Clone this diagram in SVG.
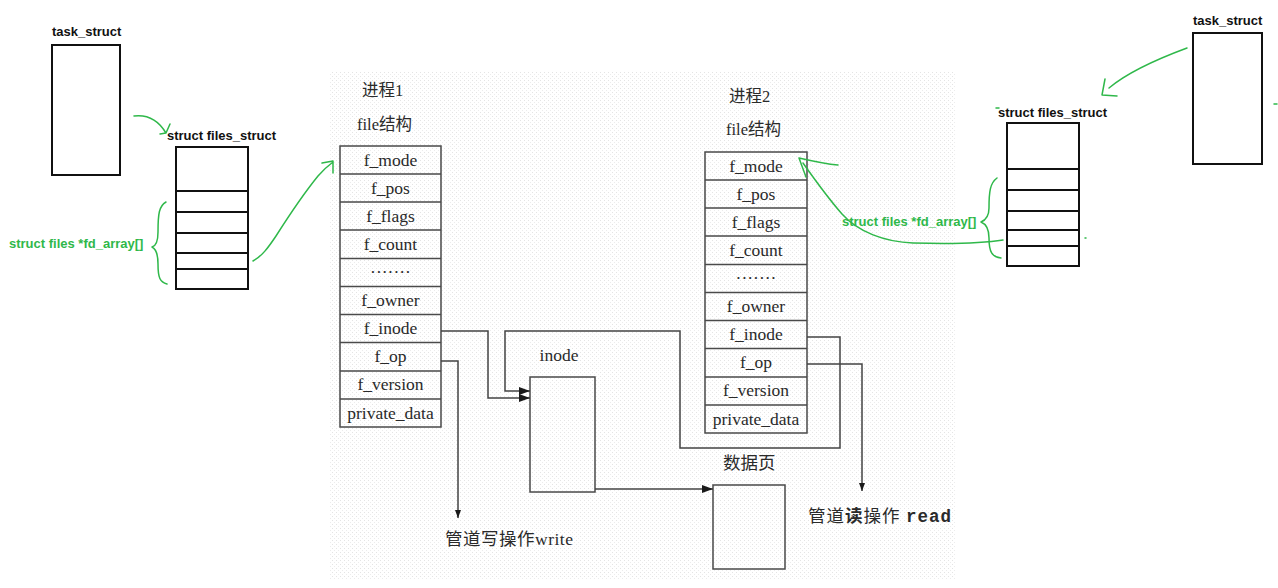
<svg xmlns="http://www.w3.org/2000/svg" width="1278" height="588" viewBox="0 0 1278 588">
<style>
.lbl{font-family:"Liberation Sans","Noto Sans",sans-serif;font-weight:bold;font-size:13px;fill:#111}
.glbl{font-family:"Liberation Sans","Noto Sans",sans-serif;font-weight:bold;font-size:13px;fill:#2fb84a}
.box{fill:none;stroke:#111;stroke-width:2}
.tbl{fill:none;stroke:#4a4a4a;stroke-width:1.5}
.cell{font-family:"Liberation Serif","Noto Sans CJK SC",serif;font-size:17.5px;fill:#2a2a2a;text-anchor:middle}
.cjk{font-family:"Liberation Serif","Noto Sans CJK SC",serif;font-size:16.5px;fill:#2a2a2a}
.conn{fill:none;stroke:#444;stroke-width:1.5}
.green{fill:none;stroke:#2fb84a;stroke-width:1.5;stroke-linecap:round;stroke-linejoin:round}
</style>
<defs>
<pattern id="dots" width="4" height="4" patternUnits="userSpaceOnUse">
<rect width="4" height="4" fill="#ffffff"/>
<rect x="0" y="0" width="1" height="1" fill="#e4e4e4"/>
<rect x="2" y="2" width="1" height="1" fill="#ececec"/>
</pattern>
<marker id="arr" markerUnits="userSpaceOnUse" markerWidth="12" markerHeight="8" refX="11" refY="4" orient="auto">
<path d="M0,0 L11,4 L0,8 z" fill="#1a1a1a"/>
</marker>
<marker id="arrs" markerUnits="userSpaceOnUse" markerWidth="9" markerHeight="6" refX="8" refY="3" orient="auto">
<path d="M0,0 L8,3 L0,6 z" fill="#1a1a1a"/>
</marker>
</defs>
<rect width="1278" height="588" fill="#ffffff"/>
<rect id="scan-bg" x="329" y="72" width="627" height="508" fill="url(#dots)"/>

<g id="task1">
<text class="lbl" x="52" y="36">task_struct</text>
<rect class="box" x="52" y="45" width="68" height="130"/>
</g>

<g id="files1">
<text class="lbl" x="167" y="140">struct files_struct</text>
<rect class="box" x="176" y="147" width="72" height="142"/>
<line class="box" x1="176" y1="191" x2="248" y2="191"/>
<line class="box" x1="176" y1="212" x2="248" y2="212"/>
<line class="box" x1="176" y1="233" x2="248" y2="233"/>
<line class="box" x1="176" y1="253" x2="248" y2="253"/>
<line class="box" x1="176" y1="269" x2="248" y2="269"/>
<text class="glbl" x="9" y="248">struct files *fd_array[]</text>
<path class="green" d="M166,202 C159,206 158,214 158,232 C158,242 156,246 152,247 C156,249 158,253 158,264 C158,278 160,282 167,284"/>
</g>

<g id="proc1">
<text class="cjk" x="362" y="96">进程1</text>
<text class="cjk" x="357" y="130">file结构</text>
<rect class="tbl" x="340" y="146" width="101" height="281"/>
<path class="tbl" d="M340,174H441M340,202H441M340,230H441M340,258.5H441M340,286.5H441M340,314.5H441M340,342.5H441M340,371H441M340,399H441"/>
<text class="cell" x="390.5" y="166">f_mode</text>
<text class="cell" x="390.5" y="194">f_pos</text>
<text class="cell" x="390.5" y="222">f_flags</text>
<text class="cell" x="390.5" y="250">f_count</text>
<text class="cell" x="390.5" y="278">·······</text>
<text class="cell" x="390.5" y="306">f_owner</text>
<text class="cell" x="390.5" y="334">f_inode</text>
<text class="cell" x="390.5" y="362">f_op</text>
<text class="cell" x="390.5" y="390">f_version</text>
<text class="cell" x="390.5" y="419">private_data</text>
</g>

<g id="proc2">
<text class="cjk" x="729" y="102">进程2</text>
<text class="cjk" x="726" y="135">file结构</text>
<rect class="tbl" x="705" y="152" width="102" height="281"/>
<path class="tbl" d="M705,180H807M705,208H807M705,236H807M705,264.5H807M705,292.5H807M705,320.5H807M705,348.5H807M705,377H807M705,405H807"/>
<text class="cell" x="756" y="172">f_mode</text>
<text class="cell" x="756" y="200">f_pos</text>
<text class="cell" x="756" y="228">f_flags</text>
<text class="cell" x="756" y="256">f_count</text>
<text class="cell" x="756" y="284">·······</text>
<text class="cell" x="756" y="312">f_owner</text>
<text class="cell" x="756" y="340">f_inode</text>
<text class="cell" x="756" y="368">f_op</text>
<text class="cell" x="756" y="396">f_version</text>
<text class="cell" x="756" y="425">private_data</text>
</g>

<g id="inode">
<text class="cell" x="559" y="361">inode</text>
<rect class="tbl" x="530" y="377" width="65" height="115"/>
</g>

<g id="datapage">
<text class="cjk" x="723" y="469" style="font-size:17.5px">数据页</text>
<rect class="tbl" x="713" y="485" width="72" height="84"/>
</g>

<g id="write-op">
<text class="cjk" x="445" y="545" style="font-size:17.5px;letter-spacing:0.5px">管道写操作write</text>
</g>

<g id="read-op">
<text class="cjk" x="808" y="522" style="font-size:17.5px;letter-spacing:1px">管道<tspan font-weight="bold">读</tspan>操作 <tspan style="font-family:'Liberation Mono',monospace;font-weight:bold">read</tspan></text>
</g>

<g id="files2">
<text class="lbl" x="998" y="117">struct files_struct</text>
<rect class="box" x="1007" y="123" width="72" height="143"/>
<line class="box" x1="1007" y1="169" x2="1079" y2="169"/>
<line class="box" x1="1007" y1="190" x2="1079" y2="190"/>
<line class="box" x1="1007" y1="211" x2="1079" y2="211"/>
<line class="box" x1="1007" y1="230" x2="1079" y2="230"/>
<line class="box" x1="1007" y1="246" x2="1079" y2="246"/>
<text class="glbl" x="842" y="226">struct files *fd_array[]</text>
<path class="green" d="M997,178 C990,183 989,192 989,208 C989,216 986,220 981,222 C986,224 989,228 989,238 C989,252 992,257 1001,258"/>
</g>

<g id="task2">
<text class="lbl" x="1193" y="25">task_struct</text>
<rect class="box" x="1193" y="33" width="69" height="131"/>
</g>

<g id="connectors">
<path class="conn" d="M441,331 H488 V398 H530" marker-end="url(#arr)"/>
<path class="conn" d="M807,337 H840 V448 H680 V331 H505 V391 H530" marker-end="url(#arr)"/>
<path class="conn" d="M441,361 H458 V518" marker-end="url(#arrs)"/>
<path class="conn" d="M807,364 H862 V491" marker-end="url(#arrs)"/>
<path class="conn" d="M595,489 H713" marker-end="url(#arr)"/>
<path class="green" d="M134,116 C150,114 160,123 166,133 M170,124 L166,133 L160,134"/>
<path class="green" d="M253,261 C262,256 268,248 276,236 C290,214 305,192 318,176 C324,169 329,165 333,162 M322,163 L333,161 L333,173"/>
<path class="green" d="M1187,48 C1160,58 1128,72 1109,88 M1105,79 L1102,95 L1117,96"/>
<path class="green" d="M1003,240 C985,243 950,244 913,243 C885,242 858,232 842,214 C828,198 815,180 803,163 M799,158 C812,161 826,164 838,165 M799,158 L806,177"/>
<path class="green" d="M996,108 L999,108 M1274,104 L1277,104 M1085,238 L1086,238"/>
</g>
</svg>
